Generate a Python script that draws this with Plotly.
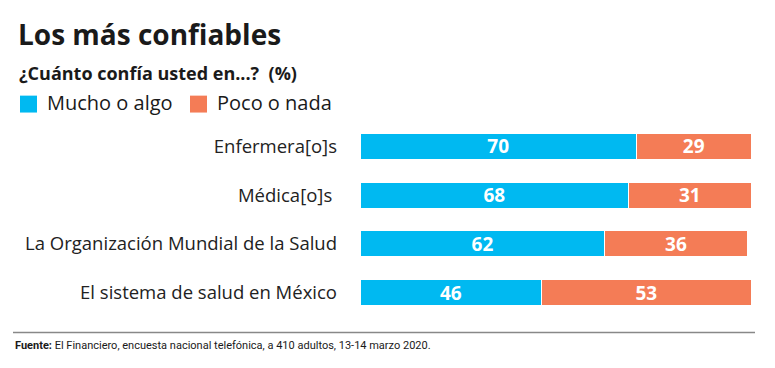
import plotly.graph_objects as go

categories = ["Enfermera[o]s", "Médica[o]s ", "La Organización Mundial de la Salud", "El sistema de salud en México"]
mucho = [70, 68, 62, 46]
poco = [29, 31, 36, 53]
series_names = ["Mucho o algo", "Poco o nada"]
colors = ["#00B9F1", "#F47C56"]

FONT = "Open Sans"
NARROW = "Liberation Sans Narrow, Roboto"

OFF = 8  # page body margin compensation

fig = go.Figure()
for name, vals, col in zip(series_names, [mucho, poco], colors):
    fig.add_trace(go.Bar(
        y=categories, x=vals, name=name, orientation="h",
        marker=dict(color=col, line=dict(color="white", width=1)),
        text=[str(v) for v in vals], textposition="inside", textangle=0,
        insidetextanchor="middle",
        textfont=dict(family=FONT, size=19, color="white", weight="bold"),
        showlegend=False, hoverinfo="skip",
    ))

W, H = 775, 368
ml = 360 - OFF
mt = 121.5 - OFF
pw, ph = 395, 196
mr = W - ml - pw
mb = H - mt - ph

fig.update_layout(
    width=W, height=H, barmode="stack", bargap=0.47,
    uniformtext=dict(minsize=19, mode="show"),
    margin=dict(l=ml, r=mr, t=mt, b=mb, autoexpand=False),
    plot_bgcolor="white", paper_bgcolor="white",
    font=dict(family=FONT, color="#1a1a1a"),
    xaxis=dict(range=[0, 100], visible=False, fixedrange=True),
    yaxis=dict(autorange="reversed", showgrid=False, zeroline=False, showline=False,
               ticks="", ticklabelstandoff=22, tickfont=dict(family=FONT, size=18.5, color="#222")),
)


def ax(xpx):
    return (xpx - OFF - ml) / pw


def ay(ypx):
    return (H - mb - (ypx - OFF)) / ph


raw = [
    ("<b>Los más confiables</b>", 16, 33, 28, FONT),
    ("<b>¿Cuánto confía usted en...?  (%)</b>", 17, 72, 18, FONT),
    (series_names[0], 45, 102, 20, FONT),
    (series_names[1], 215, 102, 20, FONT),
    ("<b>Fuente:</b> El Financiero, encuesta nacional telefónica, a 410 adultos, 13-14 marzo 2020.", 13, 346, 11, NARROW),
]
annots = []
for text, xp, yp, size, fam in raw:
    annots.append(dict(text=text, x=ax(xp), y=ay(yp), xref="paper", yref="paper",
                       xanchor="left", yanchor="middle", showarrow=False,
                       font=dict(family=fam, size=size, color="#1a1a1a")))
fig.update_layout(annotations=annots)

shapes = [
    dict(type="rect", x0=ax(20), x1=ax(37), y0=ay(112), y1=ay(95), xref="paper", yref="paper",
         fillcolor=colors[0], line=dict(width=0)),
    dict(type="rect", x0=ax(190), x1=ax(207), y0=ay(112), y1=ay(95), xref="paper", yref="paper",
         fillcolor=colors[1], line=dict(width=0)),
    dict(type="line", x0=ax(13), x1=ax(755), y0=ay(333), y1=ay(333), xref="paper", yref="paper",
         line=dict(color="#888", width=1.5)),
]
fig.update_layout(shapes=shapes)

fig.write_html("out.html")
